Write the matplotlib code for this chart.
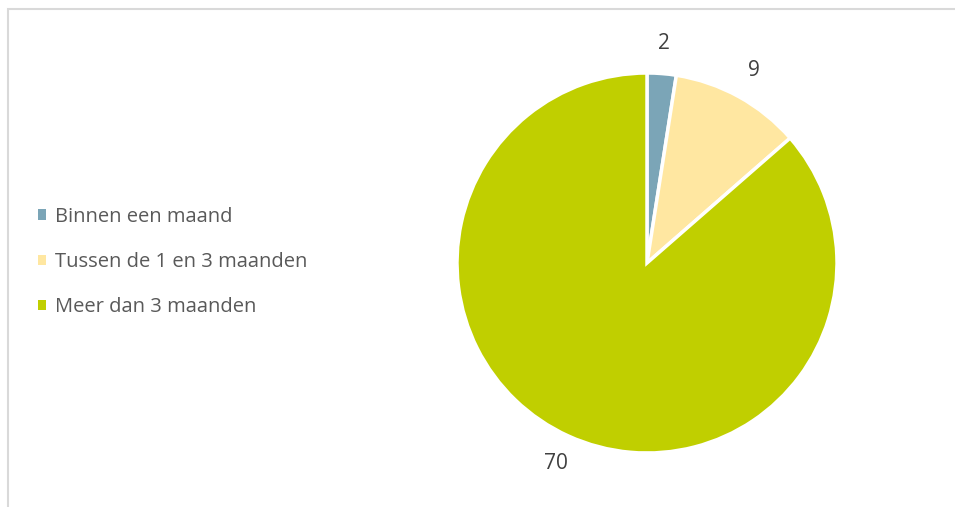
import matplotlib
matplotlib.use("Agg")
import matplotlib.pyplot as plt
from matplotlib.patches import Rectangle, Patch

categories = ["Binnen een maand", "Tussen de 1 en 3 maanden", "Meer dan 3 maanden"]
values = [2, 9, 70]
colors = ["#7BA5B7", "#FFE7A1", "#C0CF00"]

plt.rcParams['font.family'] = ['Open Sans', 'DejaVu Sans']

W, H = 955, 507
fig = plt.figure(figsize=(W / 100, H / 100), dpi=100)

# chart area border (partly outside the image)
fig.patches.append(Rectangle((8 / W, -0.1), 1.2, (H - 9) / H + 0.1, transform=fig.transFigure,
                             fill=False, edgecolor="#D9D9D9", linewidth=1.5))

cx, cy, r = 647, 263, 190
ax = fig.add_axes([(cx - r) / W, (H - cy - r) / H, 2 * r / W, 2 * r / H])
wedges, texts = ax.pie(values, colors=colors, startangle=90, counterclock=False,
                       labels=[str(v) for v in values], labeldistance=1.16,
                       wedgeprops=dict(edgecolor="white", linewidth=2.5),
                       textprops=dict(fontsize=15, color="#404040"))
for t in texts:
    t.set_ha("center")
    t.set_va("center")
ax.set_aspect("equal")
ax.set_xlim(-1, 1)
ax.set_ylim(-1, 1)

handles = [Patch(facecolor=c, edgecolor="none") for c in colors]
fig.legend(handles, categories, loc="center left", bbox_to_anchor=(38 / W, 1 - 262 / H),
           frameon=False, fontsize=14.5, handlelength=0.42, handleheight=0.42,
           handletextpad=0.4, labelspacing=1.25, labelcolor="#595959",
           borderaxespad=0, borderpad=0)

fig.savefig("out.png", dpi=100)
